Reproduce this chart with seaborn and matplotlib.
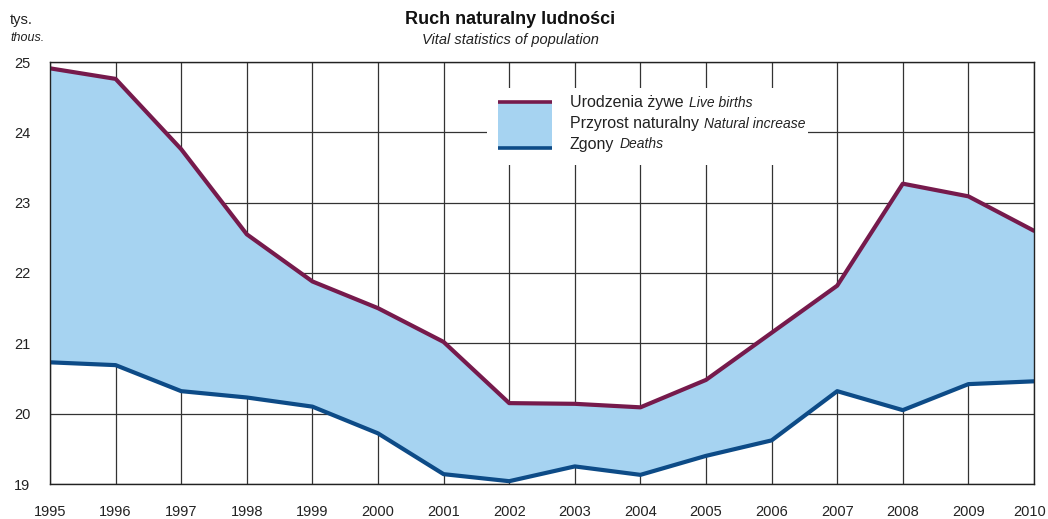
import matplotlib
matplotlib.use("Agg")
from matplotlib import pyplot as plt
from matplotlib.patches import Rectangle
from matplotlib.lines import Line2D
from matplotlib.transforms import ScaledTranslation
import seaborn as sns
import pandas as pd

years = list(range(1995, 2011))
births = [24.91, 24.76, 23.76, 22.55, 21.88, 21.50, 21.02, 20.15,
          20.14, 20.09, 20.48, 21.15, 21.82, 23.27, 23.09, 22.60]
deaths = [20.73, 20.69, 20.32, 20.23, 20.10, 19.72, 19.14, 19.04,
          19.25, 19.13, 19.40, 19.62, 20.32, 20.05, 20.42, 20.46]
y_ticks = [19, 20, 21, 22, 23, 24, 25]

PURPLE = "#761a4c"
BLUE = "#0d4b87"
FILL = "#a6d3f1"
TXT = "#222222"

df = pd.DataFrame({"rok": years, "urodzenia": births, "zgony": deaths})

sns.set_theme(style="white")
plt.rcParams["font.family"] = ["Liberation Sans", "DejaVu Sans"]

fig = plt.figure(figsize=(10.48, 5.19), dpi=100)
ax = fig.add_axes([50 / 1048, 35 / 519, 984 / 1048, 422 / 519])

# grid drawn by hand so it sits under the fill
for yr in years:
    ax.axvline(yr, color="#333333", lw=0.9, zorder=0.8)
for v in y_ticks:
    ax.axhline(v, color="#333333", lw=0.9, zorder=0.8)

ax.fill_between(df["rok"], df["zgony"], df["urodzenia"], color=FILL, lw=0, zorder=2.5)
sns.lineplot(data=df, x="rok", y="urodzenia", color=PURPLE, lw=3, ax=ax, zorder=3)
sns.lineplot(data=df, x="rok", y="zgony", color=BLUE, lw=3, ax=ax, zorder=3)

ax.set_xlim(1995, 2010)
ax.set_ylim(19, 25)
ax.set_xticks(years)
ax.set_yticks(y_ticks)
ax.set_xlabel("")
ax.set_ylabel("")
ax.grid(False)
for s in ax.spines.values():
    s.set_color(TXT)
    s.set_linewidth(1)
    s.set_zorder(4)
ax.tick_params(axis="both", length=0, labelsize=10.5, colors=TXT)
ax.tick_params(axis="x", pad=15)
ax.tick_params(axis="y", pad=14)
last = ax.get_xticklabels()[-1]
last.set_transform(last.get_transform() + ScaledTranslation(-4 / 100, 0, fig.dpi_scale_trans))

# legend: white box over the grid, swatch with two edge lines, texts
ax.add_patch(Rectangle((0.444, 0.756), 0.326, 0.182, transform=ax.transAxes,
                       facecolor="white", edgecolor="none", zorder=1))
lx0, lx1 = (498 - 50) / 984, (552 - 50) / 984
ly_top, ly_bot = (484 - 101.5) / 422, (484 - 147.5) / 422
ax.add_patch(Rectangle((lx0, ly_bot), lx1 - lx0, ly_top - ly_bot, transform=ax.transAxes,
                       facecolor=FILL, edgecolor="none", zorder=5))
ax.add_line(Line2D([lx0, lx1], [ly_top, ly_top], transform=ax.transAxes, color=PURPLE,
                   lw=2.6, solid_capstyle="butt", zorder=6))
ax.add_line(Line2D([lx0, lx1], [ly_bot, ly_bot], transform=ax.transAxes, color=BLUE,
                   lw=2.6, solid_capstyle="butt", zorder=6))

entries = [("Urodzenia żywe", "Live births"),
           ("Przyrost naturalny", "Natural increase"),
           ("Zgony", "Deaths")]
tx = (570 - 50) / 984
fig.canvas.draw()
for i, (pl, en) in enumerate(entries):
    ty = (484 - (103 + i * 20.5)) / 422
    t = ax.text(tx, ty, pl, transform=ax.transAxes, fontsize=11.5,
                va="center", ha="left", color=TXT, zorder=6)
    fig.canvas.draw()
    bb = t.get_window_extent().transformed(ax.transAxes.inverted())
    ax.text(bb.x1 + 5 / 984, ty, en, transform=ax.transAxes, fontsize=10, style="italic",
            va="center", ha="left", color=TXT, zorder=6)

fig.text(510 / 1048, 1 - 20 / 519, "Ruch naturalny ludności", ha="center", va="center",
         fontsize=13, weight="bold", color="#111111")
fig.text(510 / 1048, 1 - 40 / 519, "Vital statistics of population", ha="center", va="center",
         fontsize=10.5, style="italic", color=TXT)
fig.text(10 / 1048, 1 - 20 / 519, "tys.", ha="left", va="center", fontsize=10.5, color=TXT)
fig.text(10 / 1048, 1 - 38 / 519, "thous.", ha="left", va="center", fontsize=9, style="italic",
         color=TXT)

fig.savefig("out.png", dpi=100)
plt.close(fig)
